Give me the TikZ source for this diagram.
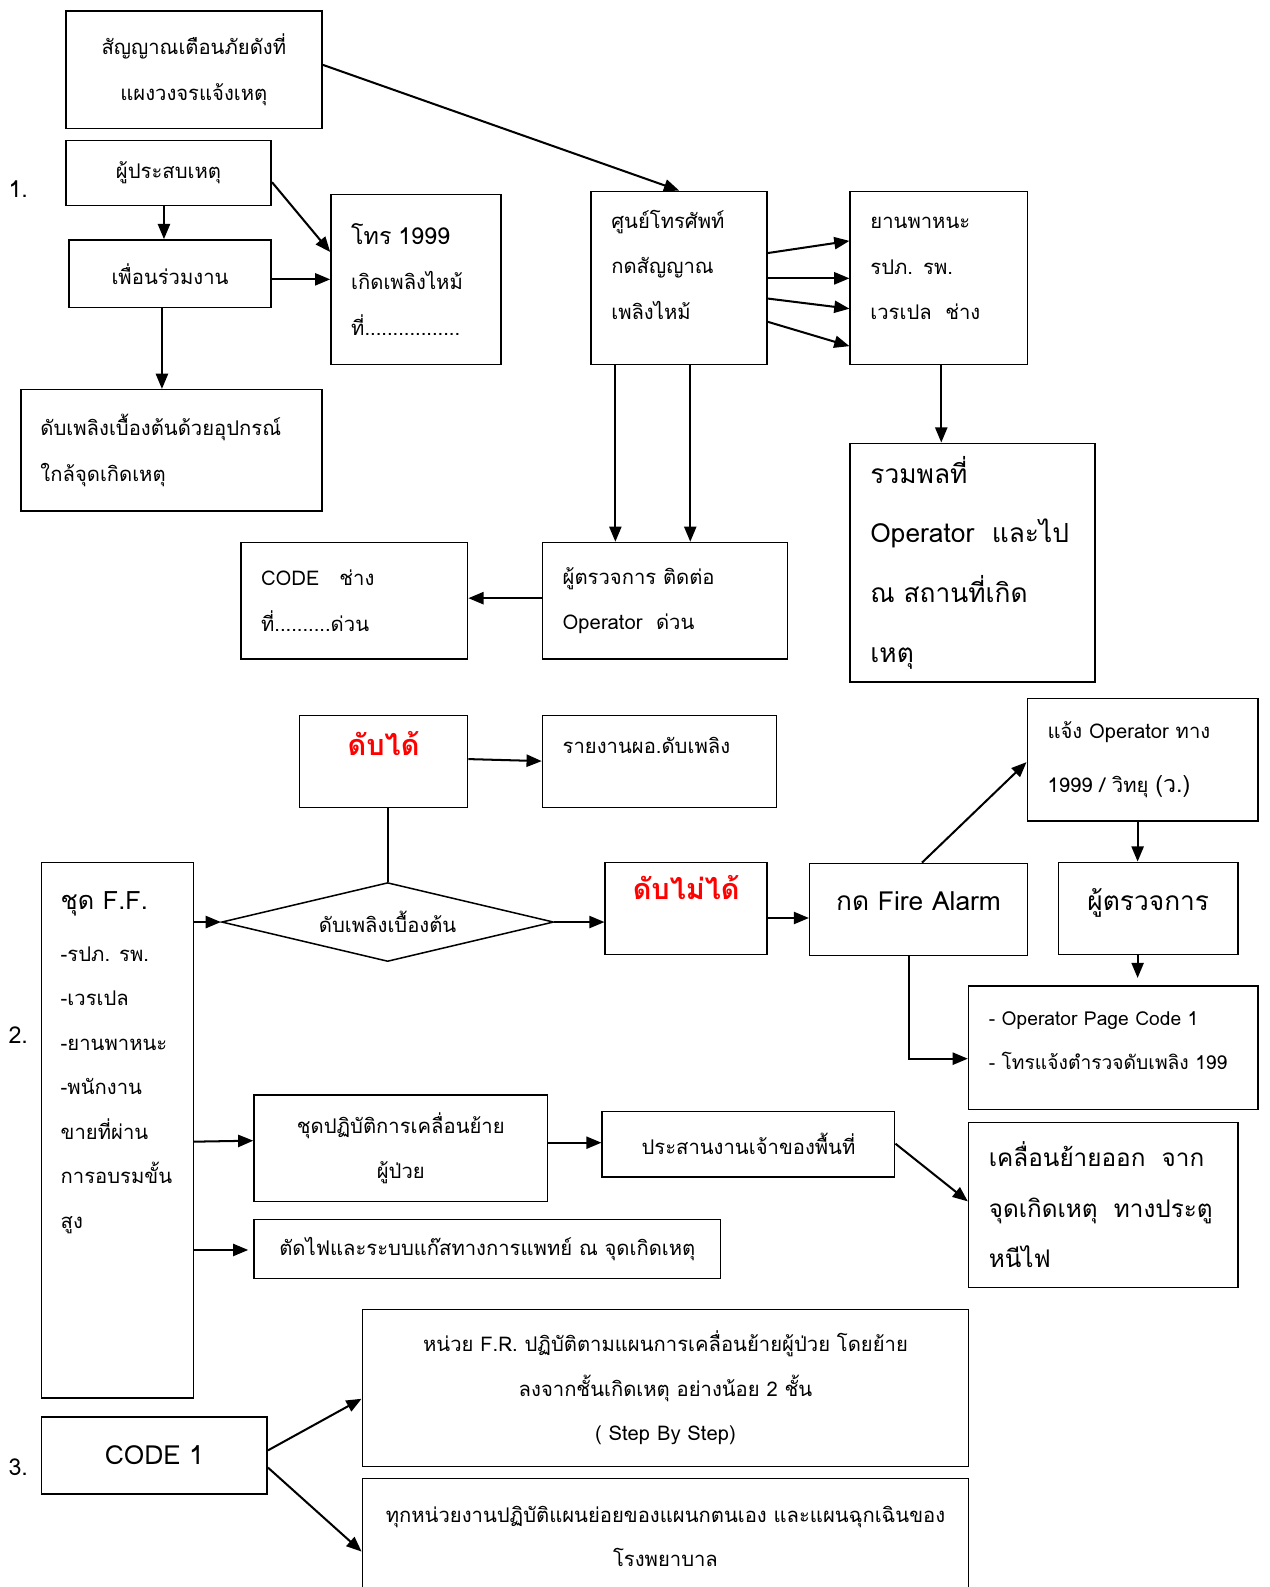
\documentclass[tikz,border=0pt]{standalone}
\usepackage{fontspec}
\setmainfont{Loma}[Script=Thai]
\usetikzlibrary{arrows.meta,shapes.geometric,positioning}

% font sizes (picture units are 1pt = 1px of the reference)
\newcommand{\fsnormal}{\fontsize{20pt}{45pt}\selectfont}
\newcommand{\fsmid}{\fontsize{23pt}{50pt}\selectfont}
\newcommand{\fslarge}{\fontsize{26pt}{59pt}\selectfont}
\newcommand{\fsred}{\fontsize{28.5pt}{40pt}\selectfont\bfseries}

\begin{document}
\begin{tikzpicture}[x=1pt,y=-1pt,
  box/.style={draw, line width=1.5pt, rectangle, inner sep=0pt, align=left, font=\fsnormal},
  decide/.style={draw, line width=1.5pt, diamond, aspect=4.2, inner sep=0pt, font=\fsnormal},
  flow/.style={line width=2pt, -{Triangle[length=15pt,width=12pt]}},
  link/.style={line width=2pt}]
  \useasboundingbox (0,0) rectangle (1254,1568);

  % Part 1
  \node[font=\fsmid] (num1) at (18,187) {1.};
  \node[box, minimum width=253pt, minimum height=116pt, align=center] (alarm) at (191.5,69)
    {สัญญาณเตือนภัยดังที่\\แผงวงจรแจ้งเหตุ};
  \node[box, minimum width=203pt, minimum height=64pt, align=center] (victim) at (166.5,171) {ผู้ประสบเหตุ};
  \node[box, minimum width=200pt, minimum height=67pt, align=center] (mate) at (168,270.5) {เพื่อนร่วมงาน};
  \node[box, minimum width=168pt, minimum height=168pt, text width=128pt] (call) at (411,276)
    {{\fsmid โทร 1999}\\เกิดเพลิงไหม้\\ที่.................};
  \node[box, minimum width=297pt, minimum height=120pt, text width=259pt] (extinguish) at (169.5,445)
    {ดับเพลิงเบื้องต้นด้วยอุปกรณ์\\ใกล้จุดเกิดเหตุ};
  \node[box, minimum width=174pt, minimum height=171pt, text width=134pt, text depth=116pt] (phone) at (671,274.5)
    {ศูนย์โทรศัพท์\\กดสัญญาณ\\เพลิงไหม้};
  \node[box, minimum width=175pt, minimum height=171pt, text width=135pt, text depth=108pt] (crew) at (927.5,274.5)
    {ยานพาหนะ\\รปภ. รพ.\\เวรเปล~~ช่าง};
  \node[box, minimum width=242pt, minimum height=236pt, text width=202pt, font=\fslarge] (assembly) at (961,556)
    {รวมพลที่\\Operator~~และไป\\ณ สถานที่เกิด\\เหตุ};
  \node[box, minimum width=224pt, minimum height=115pt, text width=184pt] (tech) at (350,593.5)
    {CODE~~~ช่าง\\ที่..........ด่วน};
  \node[box, minimum width=242pt, minimum height=115pt, text width=202pt] (inspector) at (657,593.5)
    {ผู้ตรวจการ ติดต่อ\\Operator~~ด่วน};

  \draw[flow] (alarm.east |- 0,64) -- (phone.north);
  \draw[flow] (victim.south -| 162,0) -- (mate.north -| 162,0);
  \draw[flow] (victim.east |- 0,180) -- (call.west |- 0,249);
  \draw[flow] (mate.east |- 0,276) -- (call.west |- 0,276);
  \draw[flow] (mate.south -| 160,0) -- (extinguish.north -| 160,0);
  \draw[flow] (phone.east |- 0,250) -- (crew.west |- 0,238);
  \draw[flow] (phone.east |- 0,275) -- (crew.west |- 0,275);
  \draw[flow] (phone.east |- 0,295) -- (crew.west |- 0,305);
  \draw[flow] (phone.east |- 0,318) -- (crew.west |- 0,342);
  \draw[flow] (phone.south -| 608,0) -- (inspector.north -| 608,0);
  \draw[flow] (phone.south -| 682,0) -- (inspector.north -| 682,0);
  \draw[flow] (crew.south -| 930,0) -- (assembly.north -| 930,0);
  \draw[flow] (inspector.west |- 0,591) -- (tech.east |- 0,591);

  % Part 2
  \node[font=\fsmid] (num2) at (18,1023) {2.};
  \node[box, minimum width=166pt, minimum height=91pt, align=center, font=\fsred, text=red,
    text height=25pt, text depth=38pt] (done) at (379,752.5) {ดับได้};
  \node[box, minimum width=231pt, minimum height=91pt, text width=191pt,
    text height=17pt, text depth=34pt] (report) at (651.5,752.5) {รายงานผอ.ดับเพลิง};
  \node[decide, minimum width=328pt, minimum height=78pt] (first) at (383,911) {ดับเพลิงเบื้องต้น};
  \node[box, minimum width=150pt, minimum height=529pt] (ffteam) at (116,1116.5)
    {\parbox[c][529pt][t]{112pt}{\raggedright\fontsize{20pt}{44pt}\selectfont\vspace*{29pt}%
      {\fontsize{25pt}{44pt}\selectfont ชุด F.F.}\\[7pt]-รปภ. รพ.\\-เวรเปล\\-ยานพาหนะ\\-พนักงาน\\ขายที่ผ่าน\\การอบรมขั้น\\สูง}};
  \node[box, minimum width=160pt, minimum height=91pt, align=center, font=\fsred, text=red,
    text height=25pt, text depth=42pt] (notdone) at (678,897.5) {ดับไม่ได้};
  \node[box, minimum width=215pt, minimum height=91pt, align=center, font=\fslarge,
    text height=22pt, text depth=20pt] (firealarm) at (907.5,898.5) {กด Fire Alarm};
  \node[box, minimum width=228pt, minimum height=121pt, text width=188pt, font=\fontsize{20pt}{53pt}\selectfont] (notify) at (1129,750.5)
    {แจ้ง Operator ทาง\\1999 / วิทยุ {\fsmid (ว.)}};
  \node[box, minimum width=177pt, minimum height=91pt, align=center, font=\fslarge,
    text height=22pt, text depth=18pt] (chief) at (1134.5,897.5) {ผู้ตรวจการ};
  \node[box, minimum width=286pt, minimum height=122pt, text width=246pt,
    font=\fontsize{19pt}{44pt}\selectfont, text depth=58pt] (page) at (1100,1035)
    {\mbox{- Operator Page Code 1}\\\mbox{- โทรแจ้งตำรวจดับเพลิง 199}};
  \node[box, minimum width=290pt, minimum height=105pt, align=center] (moveteam) at (396,1134.5)
    {ชุดปฏิบัติการเคลื่อนย้าย\\ผู้ป่วย};
  \node[box, minimum width=289pt, minimum height=65pt, align=center] (owner) at (739.5,1130.5) {ประสานงานเจ้าของพื้นที่};
  \node[box, minimum width=266pt, minimum height=163pt, text width=226pt, font=\fontsize{24pt}{50pt}\selectfont] (evacuate) at (1090,1190.5)
    {เคลื่อนย้ายออก~~จาก\\จุดเกิดเหตุ~~ทางประตู\\หนีไฟ};
  \node[box, minimum width=461pt, minimum height=58pt, align=center] (shutoff) at (481.5,1234)
    {ตัดไฟและระบบแก๊สทางการแพทย์ ณ จุดเกิดเหตุ};

  \draw[flow] (done.east |- 0,750) -- (report.west |- 0,752);
  \draw[link] (done.south -| 383,0) -- (first.north);
  \draw[flow] (ffteam.east |- 0,911) -- (first.west);
  \draw[flow] (first.east) -- (notdone.west |- first.east);
  \draw[flow] (notdone.east |- 0,907) -- (firealarm.west |- 0,907);
  \draw[flow] (firealarm.north -| 911,0) -- (notify.west |- 0,753);
  \draw[flow] (notify.south -| 1124,0) -- (chief.north -| 1124,0);
  \draw[flow, shorten >=7pt] (chief.south -| 1124,0) -- (page.north -| 1124,0);
  \draw[flow] (firealarm.south -| 898,0) |- (page.west |- 0,1046);
  \draw[flow] (ffteam.east |- 0,1128) -- (moveteam.west |- 0,1127);
  \draw[flow] (moveteam.east |- 0,1129) -- (owner.west |- 0,1129);
  \draw[flow] (owner.east |- 0,1130) -- (evacuate.west |- 0,1187);
  \draw[flow, shorten >=5pt] (ffteam.east |- 0,1235) -- (shutoff.west |- 0,1235);

  % Part 3
  \node[font=\fsmid] (num3) at (18,1450) {3.};
  \node[box, minimum width=223pt, minimum height=76pt, align=center, font=\fslarge] (code) at (152.5,1438) {CODE 1};
  \node[box, minimum width=599pt, minimum height=155pt, align=center, font=\fontsize{20pt}{44pt}\selectfont] (frunit) at (657.5,1371.5)
    {หน่วย F.R. ปฏิบัติตามแผนการเคลื่อนย้ายผู้ป่วย โดยย้าย\\ลงจากชั้นเกิดเหตุ อย่างน้อย 2 ชั้น\\( Step By Step)};
  \node[box, minimum width=599pt, minimum height=114pt, align=center, font=\fontsize{20pt}{43pt}\selectfont] (allunits) at (657.5,1518)
    {ทุกหน่วยงานปฏิบัติแผนย่อยของแผนกตนเอง และแผนฉุกเฉินของ\\โรงพยาบาล};

  \draw[flow] (code.east |- 0,1433) -- (frunit.west |- 0,1382);
  \draw[flow] (code.east |- 0,1450) -- (allunits.west |- 0,1533);
\end{tikzpicture}
\end{document}
